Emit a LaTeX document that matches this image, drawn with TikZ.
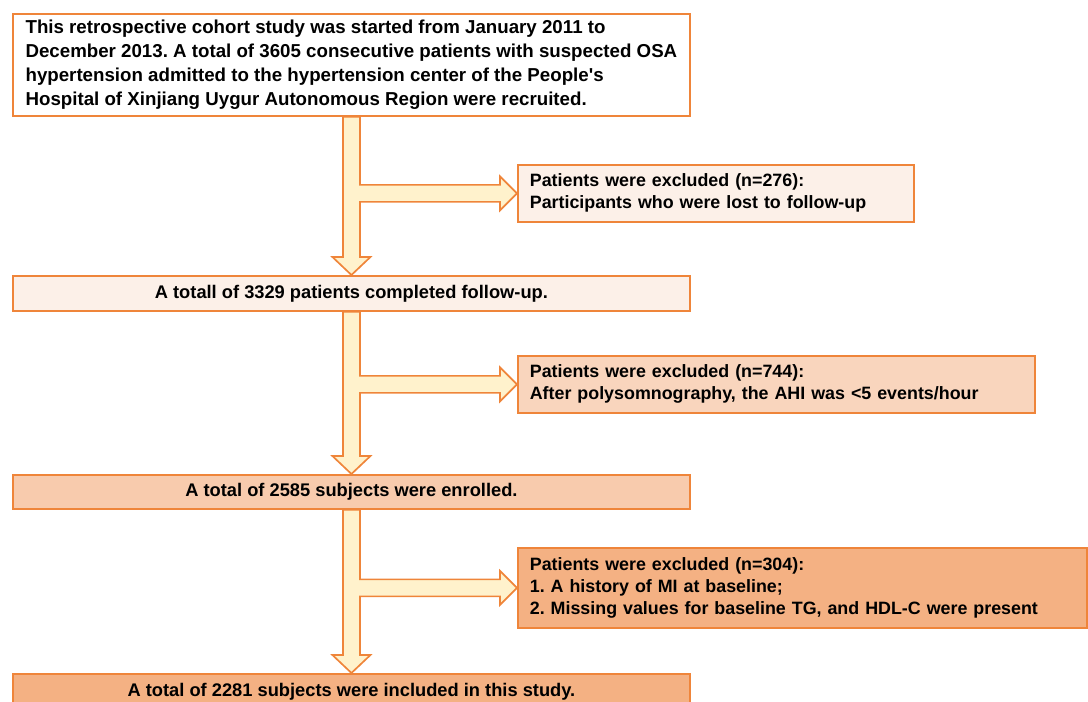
\documentclass[tikz,border=0pt]{standalone}
\usepackage{fontspec}
\setmainfont{Liberation Sans}
\usepackage{xcolor}
\definecolor{floworange}{RGB}{239,133,58}
\definecolor{flowpeachA}{RGB}{252,240,232}
\definecolor{flowpeachB}{RGB}{249,213,189}
\definecolor{flowpeachC}{RGB}{248,203,173}
\definecolor{flowpeachD}{RGB}{244,177,131}
\definecolor{flowcream}{RGB}{255,242,204}
\usetikzlibrary{calc}
\frenchspacing

% block arrow: down from #1 to #2, branching right to #3
\newcommand{\flowarrow}[3]{%
  \path (#1.south) coordinate (fa-s) (#2.north) coordinate (fa-t) (#3.west) coordinate (fa-e);
  \draw[arrowbody] ($(fa-s)+(-8.5,0)$) -- ($(fa-t)+(-8.5,-18)$) -- ($(fa-t)+(-19,-18)$)
    -- (fa-t) -- ($(fa-t)+(19,-18)$) -- ($(fa-t)+(8.5,-18)$)
    -- ($(fa-s |- fa-e)+(8.5,8.5)$) -- ($(fa-e)+(-17,8.5)$) -- ($(fa-e)+(-17,17)$)
    -- (fa-e) -- ($(fa-e)+(-17,-17)$) -- ($(fa-e)+(-17,-8.5)$)
    -- ($(fa-s |- fa-e)+(8.5,-8.5)$) -- ($(fa-s)+(8.5,0)$) -- cycle;
}

\begin{document}
\begin{tikzpicture}[
  x=0.025cm, y=-0.025cm,
  every node/.style={font=\bfseries},
  mainbox/.style={draw=floworange,line width=1.2pt,minimum width=16.925cm,
                  inner sep=0pt,anchor=north west,font=\fontsize{13}{16}\selectfont\bfseries},
  exclbox/.style={draw=floworange,line width=1.2pt,text width=#1,align=left,
                  inner xsep=0.3cm,inner ysep=0pt,anchor=north west,
                  font=\fontsize{12.7}{15.6}\selectfont\bfseries},
  arrowbody/.style={draw=floworange,line width=1.2pt,fill=flowcream,line join=miter},
]
  \useasboundingbox (0,0) rectangle (1088,702);

  % Main flow
  \node[mainbox,fill=white,minimum height=2.55cm,align=left,
        font=\fontsize{13.3}{17.2}\selectfont\bfseries] (start) at (12,13)
    {This retrospective cohort study was started from January 2011 to\\
     December 2013. A total of 3605 consecutive patients with suspected OSA\\
     hypertension admitted to the hypertension center of the People\textquotesingle s\\
     Hospital of Xinjiang Uygur Autonomous Region were recruited.};
  \node[mainbox,fill=flowpeachA,minimum height=0.875cm] (followup) at (12,275)
    {A totall of 3329 patients completed follow-up.};
  \node[mainbox,fill=flowpeachC,minimum height=0.85cm] (enrolled) at (12,474)
    {A total of 2585 subjects were enrolled.};
  \node[mainbox,fill=flowpeachD,minimum height=0.875cm] (included) at (12,673)
    {A total of 2281 subjects were included in this study.};

  % Exclusions
  \node[exclbox=9.3cm,fill=flowpeachA,minimum height=1.425cm] (excllost) at (517,164)
    {Patients were excluded (n=276):\\
     Participants who were lost to follow-up};
  \node[exclbox=12.325cm,fill=flowpeachB,minimum height=1.425cm] (exclahi) at (517,355)
    {Patients were excluded (n=744):\\
     After polysomnography, the AHI was <5 events/hour};
  \node[exclbox=13.625cm,fill=flowpeachD,minimum height=2cm] (exclmi) at (517,547)
    {Patients were excluded (n=304):\\
     1. A history of MI at baseline;\\
     2. Missing values for baseline TG, and HDL-C were present};

  % Arrows
  \flowarrow{start}{followup}{excllost}
  \flowarrow{followup}{enrolled}{exclahi}
  \flowarrow{enrolled}{included}{exclmi}
\end{tikzpicture}
\end{document}
